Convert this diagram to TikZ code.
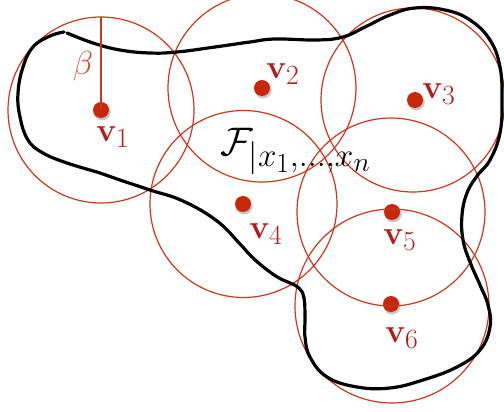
\documentclass[tikz,border=0pt]{standalone}
\usepackage{amsmath}
\usepackage{graphicx}
\definecolor{cred}{RGB}{200,55,30}
\definecolor{dred}{RGB}{200,40,10}
\definecolor{tred}{RGB}{180,28,28}
\newcommand{\mylabtxt}[1]{\scalebox{1.34}{\fontsize{24.88}{30}\selectfont #1}}
\begin{document}
\begin{tikzpicture}[x=1pt,y=-1pt,
  ball/.style={draw=cred,line width=1.2pt,circle,minimum size=#1,inner sep=0pt},
  dot/.style={circle,fill=dred,minimum size=16pt,inner sep=0pt},
  shade/.style={circle,fill=black,opacity=0.22,minimum size=17pt,inner sep=0pt},
  lab/.style={text=tred,inner sep=0pt},
  blob/.style={line width=3.2pt,black,line join=round,line cap=round}]
\useasboundingbox (0,0) rectangle (504,412);
\clip (0,0) rectangle (504,412);
% shadows
\foreach \p/\q in {101/110,262/88,415/100,243/204,392/212,391/304}
  \node[shade] at (\p+1.2,\q+2) {};
\node[dot] (v1) at (101,110) {};
\node[dot] (v2) at (262,88) {};
\node[dot] (v3) at (415,100) {};
\node[dot] (v4) at (243,204) {};
\node[dot] (v5) at (392,212) {};
\node[dot] (v6) at (391,304) {};
% balls
\node[ball=186pt] (c1) at (v1) {};
\node[ball=188pt] (c2) at (v2) {};
\node[ball=184pt] (c3) at (413,100) {};
\node[ball=187pt] (c4) at (243.5,204) {};
\node[ball=188pt] (c5) at (391,212) {};
\node[ball=194pt] (c6) at (392,306) {};
% blob
\draw[blob] plot[smooth,tension=0.7] coordinates {
(67,33) (93,43) (120,50) (150,53) (177,52) (215,47) (250,42) (275,39) (317,40)
(343,37) (365,27) (390,15) (415,8) (445,10) (470,20) (490,40) (500,67) (502,100)
(500,133) (490,160) (477,176) (467,193) (462,215) (463,240) (470,262) (480,285)
(488,305) (490,327) (480,350) (457,367) (423,380) (390,388) (357,387) (327,377)
(310,357) (305,337) (305,318) (304,298) (299,288) (290,283) (279,278) (266,269)
(252,257) (240,244) (217,221) (183,201) (150,190) (120,180) (100,173) (67,163)
(43,153) (28,140) (20,117) (18,93) (23,67) (33,47) (50,36) (64,32)};
% beta radius
\coordinate (btop) at (101,17);
\draw[cred,line width=1.3pt] (v1.center) -- (btop);
\node[lab,text=cred!90] (beta) at (83,66) {\mylabtxt{$\beta$}};
% labels
\node[lab] (l1) at (113,137) {\mylabtxt{$\mathbf{v}_1$}};
\node[lab] (l2) at (283,74) {\mylabtxt{$\mathbf{v}_2$}};
\node[lab] (l3) at (439,94) {\mylabtxt{$\mathbf{v}_3$}};
\node[lab] (l4) at (266,234) {\mylabtxt{$\mathbf{v}_4$}};
\node[lab] (l5) at (400,240) {\mylabtxt{$\mathbf{v}_5$}};
\node[lab] (l6) at (402,338) {\mylabtxt{$\mathbf{v}_6$}};
\node[lab,text=black,anchor=base west] (F) at (220,155) {\scalebox{1.6}{\fontsize{24.88}{30}\selectfont$\mathcal{F}_{|x_1,\ldots,x_n}$}};
\end{tikzpicture}
\end{document}
